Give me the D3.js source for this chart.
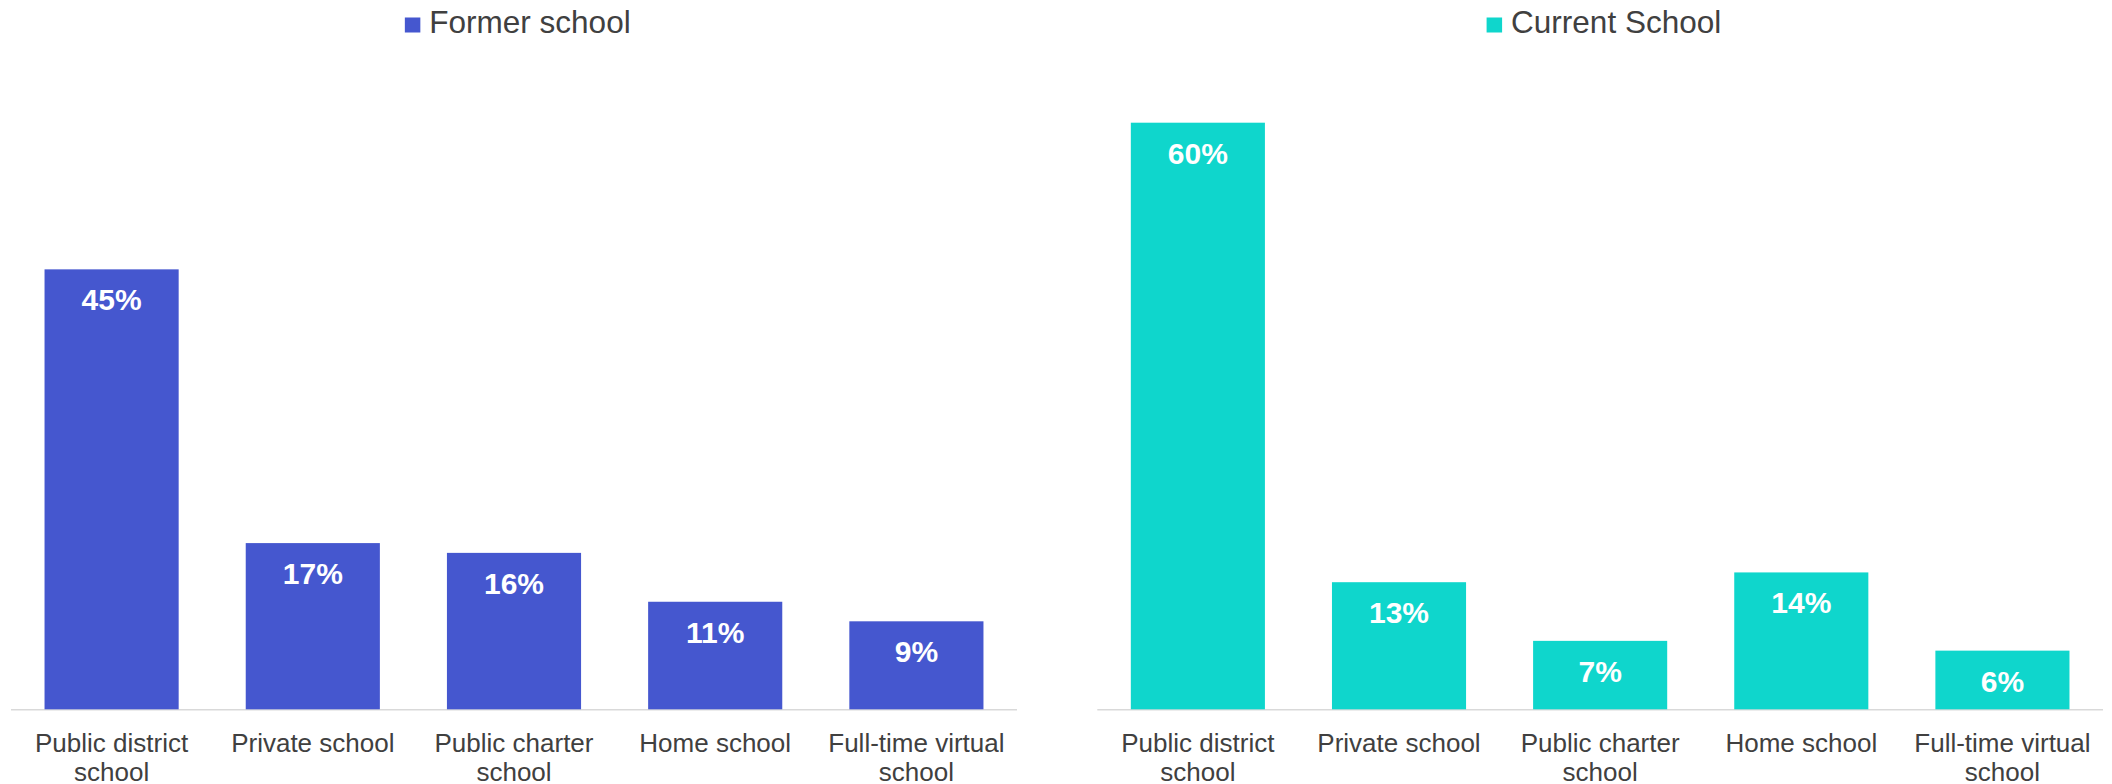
<!DOCTYPE html>
<html>
<head>
<meta charset="utf-8">
<script src="https://cdn.jsdelivr.net/npm/d3@7"></script>
<style>
  html, body { margin: 0; padding: 0; background: #ffffff; }
  svg { display: block; font-family: "Liberation Sans", Arial, sans-serif; }
</style>
</head>
<body>
<svg id="chart" width="2112" height="784"></svg>
<script>
const categories = ["Public district school", "Private school", "Public charter school", "Home school", "Full-time virtual school"];
const categoryLines = [["Public district", "school"], ["Private school"], ["Public charter", "school"], ["Home school"], ["Full-time virtual", "school"]];
const formerValues = [0.45, 0.17, 0.16, 0.11, 0.09];
const currentValues = [0.60, 0.13, 0.07, 0.14, 0.06];
const seriesNames = ["Former school", "Current School"];
const seriesColors = ["#4557CF", "#0FD6CC"];

const svg = d3.select("#chart");
const baseY = 709.3;
const y = d3.scaleLinear().domain([0, 0.6]).range([baseY, 122.7]);

const panels = [
  { name: seriesNames[0], values: formerValues, color: seriesColors[0], x0: 11, x1: 1017 },
  { name: seriesNames[1], values: currentValues, color: seriesColors[1], x0: 1097.3, x1: 2103 }
];

panels.forEach(p => {
  const g = svg.append("g");
  const x = d3.scaleBand().domain(categories).range([p.x0, p.x1]).paddingInner(1/3).paddingOuter(1/6);

  g.append("line")
    .attr("x1", p.x0).attr("x2", p.x1)
    .attr("y1", baseY + 0.5).attr("y2", baseY + 0.5)
    .attr("stroke", "#d9d9d9").attr("stroke-width", 1.5);

  g.selectAll("rect.bar").data(p.values).enter().append("rect")
    .attr("class", "bar")
    .attr("x", (d, i) => x(categories[i]))
    .attr("width", x.bandwidth())
    .attr("y", d => y(d))
    .attr("height", d => baseY - y(d))
    .attr("fill", p.color);

  g.selectAll("text.val").data(p.values).enter().append("text")
    .attr("class", "val")
    .attr("x", (d, i) => x(categories[i]) + x.bandwidth() / 2)
    .attr("y", d => y(d) + 41)
    .attr("text-anchor", "middle")
    .attr("font-size", 30)
    .attr("font-weight", "bold")
    .attr("fill", "#ffffff")
    .text(d => Math.round(d * 100) + "%");

  categories.forEach((c, i) => {
    const t = g.append("text")
      .attr("x", x(c) + x.bandwidth() / 2)
      .attr("y", 751.5)
      .attr("text-anchor", "middle")
      .attr("font-size", 26)
      .attr("fill", "#404040");
    categoryLines[i].forEach((line, k) => {
      t.append("tspan")
        .attr("x", x(c) + x.bandwidth() / 2)
        .attr("dy", k === 0 ? 0 : 29)
        .text(line);
    });
  });

  const cx = (p.x0 + p.x1) / 2;
  const lg = g.append("g");
  const lt = lg.append("text")
    .attr("y", 33.3)
    .attr("font-size", 31.5)
    .attr("fill", "#404040")
    .text(p.name);
  const tw = lt.node().getComputedTextLength();
  const total = 16 + 9 + tw;
  const startX = cx - total / 2 + 4;
  lg.append("rect")
    .attr("x", startX).attr("y", 17.5)
    .attr("width", 15.5).attr("height", 15)
    .attr("fill", p.color);
  lt.attr("x", startX + 24.5);
});
</script>
</body>
</html>
